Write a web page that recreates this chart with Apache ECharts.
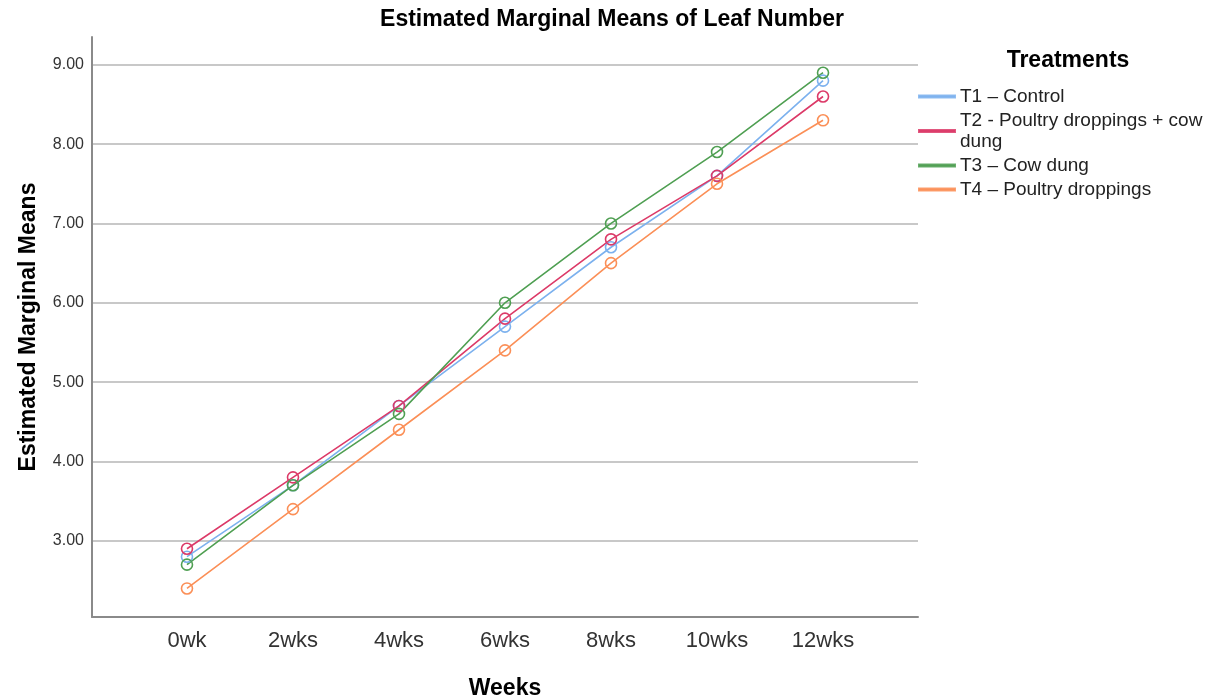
<!DOCTYPE html>
<html lang="en">
<head>
    <meta charset="UTF-8">
    <title>Estimated Marginal Means of Leaf Number</title>
    <script src="https://cdn.jsdelivr.net/npm/echarts@6/dist/echarts.min.js"></script>
    <style>
        html, body { margin: 0; padding: 0; background: #fff; }
        #chart { width: 1210px; height: 698px; }
    </style>
</head>
<body>
<div id="chart"></div>
<script>
    // week labels and means
    var weeks = ['0wk', '2wks', '4wks', '6wks', '8wks', '10wks', '12wks'];
    var t1 = [2.8, 3.7, 4.7, 5.7, 6.7, 7.6, 8.8];
    var t2 = [2.9, 3.8, 4.7, 5.8, 6.8, 7.6, 8.6];
    var t3 = [2.7, 3.7, 4.6, 6.0, 7.0, 7.9, 8.9];
    var t4 = [2.4, 3.4, 4.4, 5.4, 6.5, 7.5, 8.3];
    var names = ['T1 \u2013 Control', 'T2 - Poultry droppings + cow dung', 'T3 \u2013 Cow dung', 'T4 \u2013 Poultry droppings'];
    var colors = ['#7cb1ee', '#dc3a68', '#4f9f52', '#fb8f57'];
    var yTicks = [3, 4, 5, 6, 7, 8, 9];

    function pairs(arr) {
        return arr.map(function (v, i) { return [i, v]; });
    }

    var chart = echarts.init(document.getElementById('chart'));
    var font = 'Arial, "Liberation Sans", sans-serif';

    var series = [t1, t2, t3, t4].map(function (arr, k) {
        return {
            name: names[k],
            type: 'line',
            data: pairs(arr),
            symbol: 'circle',
            symbolSize: 11,
            lineStyle: { width: 1.6, color: colors[k] },
            itemStyle: { color: 'rgba(0,0,0,0)', borderColor: colors[k], borderWidth: 1.6 },
            emphasis: { disabled: true }
        };
    });

    chart.setOption({
        animation: false,
        textStyle: { fontFamily: font },
        title: [{
            text: 'Estimated Marginal Means of Leaf Number',
            left: 607, textAlign: 'center', top: 3,
            textStyle: { fontSize: 23, fontWeight: 'bold', color: '#000' }
        }, {
            text: 'Treatments',
            left: 1063, textAlign: 'center', top: 44,
            textStyle: { fontSize: 23, fontWeight: 'bold', color: '#000' }
        }],
        legend: {
            orient: 'vertical',
            left: 918, top: 86,
            padding: 0,
            icon: 'rect',
            itemWidth: 36, itemHeight: 2,
            itemGap: 3,
            data: names.map(function (n, k) {
                return { name: n, itemStyle: { color: colors[k], opacity: 0.85 } };
            }),
            formatter: function (n) {
                return n.replace('+ cow dung', '+ cow\ndung');
            },
            textStyle: { fontSize: 19, color: '#222', lineHeight: 21 }
        },
        grid: { left: 92, right: 292, top: 37, bottom: 81, outerBoundsMode: 'none' },
        xAxis: {
            type: 'value',
            min: -0.896, max: 6.896,
            name: 'Weeks',
            nameLocation: 'middle',
            nameGap: 60,
            nameTextStyle: { fontSize: 23, fontWeight: 'bold', color: '#000' },
            axisLine: { onZero: false, lineStyle: { color: '#8a8a8a', width: 2 } },
            axisTick: { show: false },
            splitLine: { show: false },
            axisLabel: {
                customValues: [0, 1, 2, 3, 4, 5, 6],
                formatter: function (v) { return weeks[Math.round(v)]; },
                fontSize: 22, color: '#333', margin: 13
            }
        },
        yAxis: {
            type: 'value',
            min: 2.04, max: 9.35,
            name: 'Estimated Marginal Means',
            nameLocation: 'middle',
            nameRotate: 90,
            nameGap: 52,
            nameTextStyle: { fontSize: 23, fontWeight: 'bold', color: '#000' },
            axisLine: { show: true, onZero: false, lineStyle: { color: '#8a8a8a', width: 2 } },
            axisTick: { show: false, customValues: yTicks },
            splitLine: { show: true, lineStyle: { color: '#c8c8c8', width: 2 } },
            axisLabel: {
                customValues: yTicks,
                formatter: function (v) { return v.toFixed(2); },
                fontSize: 16, color: '#333', margin: 8
            }
        },
        series: series
    });
</script>
</body>
</html>
